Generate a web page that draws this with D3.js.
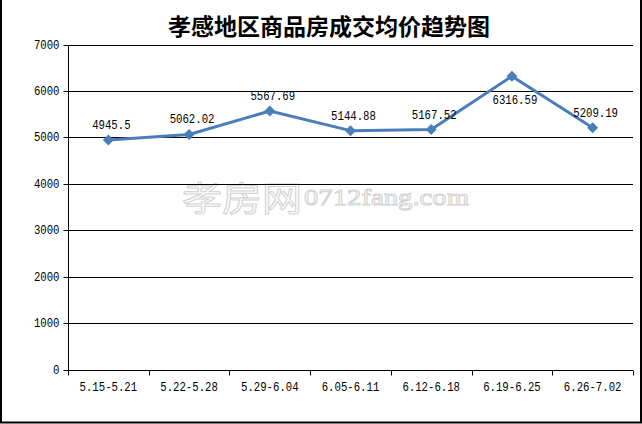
<!DOCTYPE html>
<html><head><meta charset="utf-8">
<script src="https://cdn.jsdelivr.net/npm/d3@7"></script>
<style>html,body{margin:0;padding:0;background:#fff}svg{display:block}</style>
</head><body>
<script>
const title = "孝感地区商品房成交均价趋势图";
const categories = ["5.15-5.21","5.22-5.28","5.29-6.04","6.05-6.11","6.12-6.18","6.19-6.25","6.26-7.02"];
const values = [4945.5, 5062.02, 5567.69, 5144.88, 5167.52, 6316.59, 5209.19];
const valueLabels = ["4945.5","5062.02","5567.69","5144.88","5167.52","6316.59","5209.19"];
const yTicks = [0,1000,2000,3000,4000,5000,6000,7000];

const W = 642, H = 424;
const m = {left:68, right:633, top:44.5, bottom:369.5};
const svg = d3.select("body").append("svg").attr("width",W).attr("height",H);
svg.append("rect").attr("width",W).attr("height",H).attr("fill","#fff");

// outer frame (left, right, bottom)
svg.append("path").attr("d",`M1,0 V${H-1.5} H${W-1} V0`).attr("fill","none").attr("stroke","#000").attr("stroke-width",2);

const x = d3.scaleBand().domain(categories).range([m.left,m.right]);
const y = d3.scaleLinear().domain([0,7000]).range([m.bottom,m.top]);
const monoFont = "'Liberation Mono','DejaVu Sans Mono',monospace";
const CH = 6.4; // approx advance per character in reference
const fit = sel => sel.attr("textLength", function(){ return this.textContent.length*CH; }).attr("lengthAdjust","spacingAndGlyphs");

// watermark
const wm = svg.append("g").attr("fill","#fff").attr("stroke","#d2d2d2").attr("stroke-width",1);
wm.append("text").attr("x",182).attr("y",211).attr("font-family","'Noto Sans CJK SC'").attr("font-size",34)
  .attr("textLength",120).attr("lengthAdjust","spacingAndGlyphs").text("孝房网");
wm.append("text").attr("x",304).attr("y",205).attr("font-family","'Liberation Serif','DejaVu Serif',serif").attr("font-size",24)
  .attr("textLength",165).attr("lengthAdjust","spacingAndGlyphs").text("0712fang.com");

// grid lines
svg.append("g").selectAll("line").data(yTicks.filter(d=>d>0)).join("line")
  .attr("x1",m.left).attr("x2",m.right)
  .attr("y1",d=>Math.round(y(d))+0.5).attr("y2",d=>Math.round(y(d))+0.5)
  .attr("stroke","#000").attr("stroke-width",1);

// y axis
const yAxis = svg.append("g").attr("transform",`translate(${m.left+0.5},0)`)
  .call(d3.axisLeft(y).tickValues(yTicks).tickSize(5).tickPadding(4).tickFormat(d3.format("d")));
yAxis.select(".domain").attr("d",`M0,${Math.round(y(7000))+0.5}V${Math.round(y(0))+0.5}`).attr("stroke","#000");
yAxis.selectAll(".tick line").attr("stroke","#000");
yAxis.selectAll(".tick").attr("transform",d=>`translate(0,${Math.round(y(d))+0.5})`);
yAxis.selectAll("text").attr("font-family",monoFont).attr("font-size",12).attr("fill","#000").call(fit);

// x axis
const xAxis = svg.append("g").attr("transform",`translate(0,${Math.round(y(0))+0.5})`)
  .call(d3.axisBottom(x).tickSize(0).tickPadding(12));
xAxis.select(".domain").attr("d",`M${m.left},0H${m.right}`).attr("stroke","#000");
xAxis.selectAll("text").attr("font-family",monoFont).attr("font-size",12).attr("fill","#000").call(fit);
// band boundary ticks
const bounds = categories.map(c=>x(c)).concat([m.right]);
xAxis.append("g").selectAll("line").data(bounds).join("line")
  .attr("x1",d=>Math.round(d)+0.5).attr("x2",d=>Math.round(d)+0.5).attr("y1",0).attr("y2",5).attr("stroke","#000");

// line
const cx = d => x(d.c) + x.bandwidth()/2;
const pts = categories.map((c,i)=>({c, v:values[i], lab:valueLabels[i]}));
svg.append("path").datum(pts)
  .attr("d", d3.line().x(cx).y(d=>y(d.v)))
  .attr("fill","none").attr("stroke","#4a7ebb").attr("stroke-width",3).attr("stroke-linejoin","round");

const r = 5.5;
svg.append("g").selectAll("path").data(pts).join("path")
  .attr("d", `M0,${-r}L${r},0L0,${r}L${-r},0Z`)
  .attr("transform", d=>`translate(${cx(d)},${y(d.v)})`)
  .attr("fill","#4a7ebb");

// data labels
const maxV = d3.max(values);
svg.append("g").selectAll("text").data(pts).join("text")
  .attr("x", d=>cx(d)+3)
  .attr("y", d=> d.v===maxV ? y(d.v)+28 : y(d.v)-11)
  .attr("text-anchor","middle")
  .attr("font-family",monoFont).attr("font-size",12).attr("fill","#000")
  .text(d=>d.lab).call(fit);

// title
svg.append("text").attr("x",329).attr("y",35).attr("text-anchor","middle")
  .attr("font-family","'Noto Sans CJK SC'").attr("font-weight","bold").attr("font-size",23)
  .attr("fill","#000").text(title);
</script>
</body></html>
